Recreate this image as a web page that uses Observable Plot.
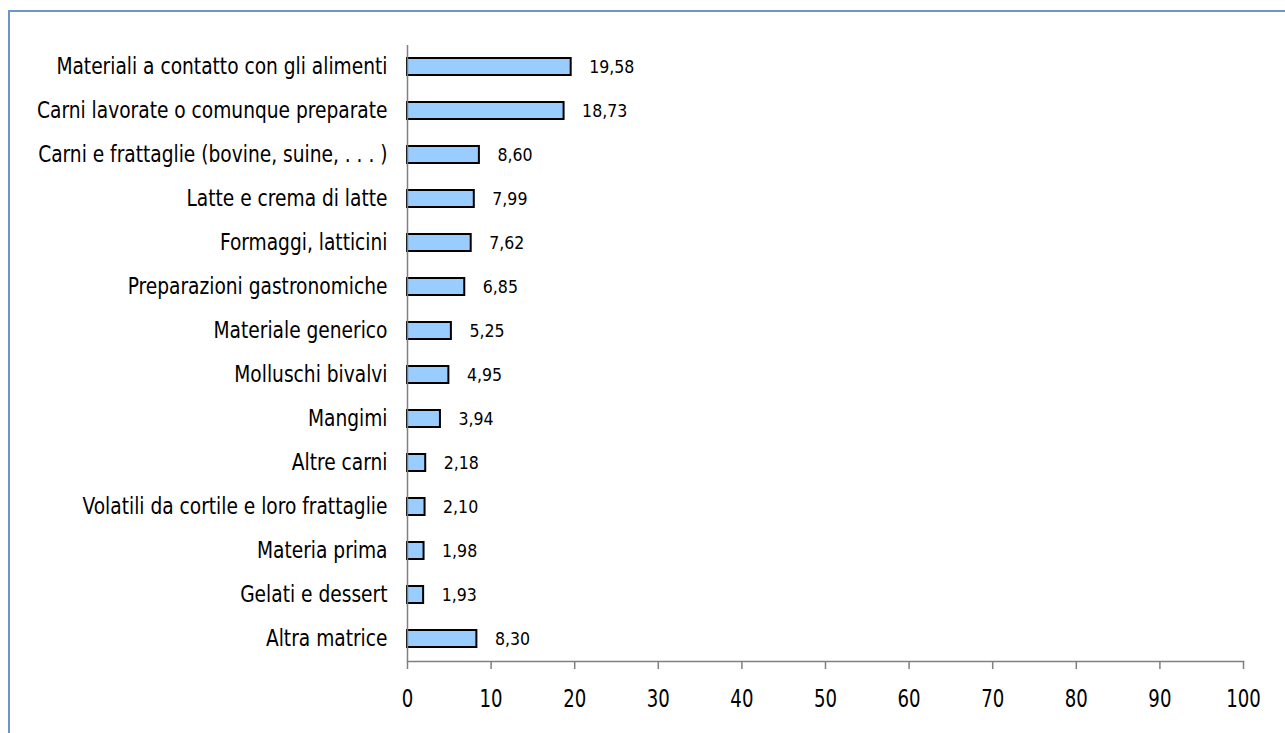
<!DOCTYPE html>
<html>
<head>
<meta charset="utf-8">
<script src="https://cdn.jsdelivr.net/npm/d3@7"></script>
<script src="https://cdn.jsdelivr.net/npm/@observablehq/plot@0.6"></script>
<style>
  html, body { margin: 0; padding: 0; background: #fff; width: 1285px; height: 733px; overflow: hidden; }
  #frame { position: absolute; left: 8px; top: 10px; width: 1300px; height: 800px; border-left: 2.5px solid #6f93cd; border-top: 2.5px solid #6f93cd; box-sizing: border-box; }
  #chart { position: absolute; left: 0; top: 0; }
</style>
</head>
<body>
<div id="frame"></div>
<div id="chart"></div>
<script>
const categories = [
  "Materiali a contatto con gli alimenti",
  "Carni lavorate o comunque preparate",
  "Carni e frattaglie (bovine, suine, . . . )",
  "Latte e crema di latte",
  "Formaggi, latticini",
  "Preparazioni gastronomiche",
  "Materiale generico",
  "Molluschi bivalvi",
  "Mangimi",
  "Altre carni",
  "Volatili da cortile e loro frattaglie",
  "Materia prima",
  "Gelati e dessert",
  "Altra matrice"
];
const values = [19.58, 18.73, 8.60, 7.99, 7.62, 6.85, 5.25, 4.95, 3.94, 2.18, 2.10, 1.98, 1.93, 8.30];
const xTicks = [0, 10, 20, 30, 40, 50, 60, 70, 80, 90, 100];

const data = categories.map((c, i) => ({category: c, value: values[i]}));
const fmt = v => v.toFixed(2).replace(".", ",");
const narrow = "'Liberation Sans Narrow', 'DejaVu Sans Condensed', sans-serif";

const chart = Plot.plot({
  width: 1285,
  height: 733,
  marginLeft: 407,
  marginRight: 42,
  marginTop: 45,
  marginBottom: 72,
  style: {fontFamily: narrow, background: "transparent", overflow: "visible"},
  x: {domain: [0, 100], axis: null},
  y: {domain: categories, paddingInner: 0.61, paddingOuter: 0.305, axis: null},
  marks: [
    Plot.barX(data, {y: "category", x: "value", fill: "#99ccff", stroke: "black", strokeWidth: 2}),
    Plot.text(data, {y: "category", x: "value", text: d => fmt(d.value), textAnchor: "start", dx: 18, fontSize: 18.5, fill: "black", className: "vlab"}),
    Plot.text(data, {y: "category", frameAnchor: "left", text: "category", textAnchor: "end", dx: -20, fontSize: 23, fill: "black", className: "clab"}),
    Plot.ruleX([0], {stroke: "#808080", strokeWidth: 1.5}),
    Plot.frame({anchor: "bottom", stroke: "#808080", strokeWidth: 1.5}),
    Plot.axisX({ticks: xTicks, tickSize: 8, tickPadding: 20, stroke: "#808080", fill: "black", fontSize: 24, strokeWidth: 1.5, label: null, tickFormat: d => String(d), className: "tlab"})
  ]
});
document.getElementById("chart").appendChild(chart);

// horizontally condense text to mimic a condensed typeface
function condense(selector, s) {
  chart.querySelectorAll(selector).forEach(el => {
    const bb = el.getBBox();
    const anchor = getComputedStyle(el).textAnchor;
    const ax = anchor === "end" ? bb.x + bb.width : anchor === "middle" ? bb.x + bb.width / 2 : bb.x;
    const t = el.getAttribute("transform") || "";
    el.setAttribute("transform", `${t} translate(${ax},0) scale(${s},1) translate(${-ax},0)`);
  });
}
condense(".clab text", 0.9);
condense(".tlab text", 0.84);
condense(".vlab text", 0.95);
</script>
</body>
</html>
